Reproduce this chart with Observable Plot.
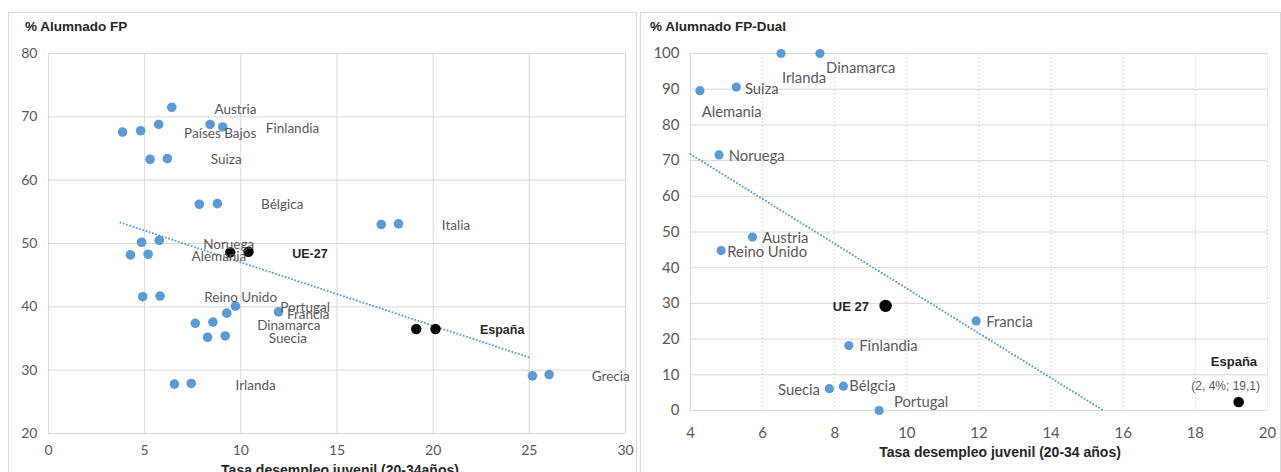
<!DOCTYPE html>
<html>
<head>
<meta charset="utf-8">
<script src="https://cdn.jsdelivr.net/npm/d3@7"></script>
<script src="https://cdn.jsdelivr.net/npm/@observablehq/plot@0.6"></script>
<style>
  html, body { margin: 0; padding: 0; background: #fff; width: 1281px; height: 472px; overflow: hidden; }
  .card { position: absolute; top: 12px; border: 1px solid #d9d9d9; box-sizing: border-box; height: 480px; }
  .panel { position: absolute; top: 12px; }
  .title { position: absolute; font-family: "Liberation Sans", Arial, sans-serif; font-weight: bold; font-size: 13.5px; color: #262626; white-space: nowrap; }
  .xtitle { position: absolute; font-family: "Liberation Sans", Arial, sans-serif; font-weight: bold; font-size: 14px; color: #262626; white-space: nowrap; transform: translateX(-50%); }
</style>
</head>
<body>
<div class="card" style="left:8px;width:629px;"></div>
<div class="card" style="left:640px;width:641px;"></div>
<div id="left" class="panel" style="left:8px;"></div>
<div id="right" class="panel" style="left:640px;"></div>
<div class="title" style="left:25px;top:19px;">% Alumnado FP</div>
<div class="title" style="left:650px;top:19px;">% Alumnado FP-Dual</div>
<div class="xtitle" style="left:340px;top:462px;">Tasa desempleo juvenil (20-34años)</div>
<div class="xtitle" style="left:1000px;top:444px;">Tasa desempleo juvenil (20-34 años)</div>
<script>
// ---------- Left chart: % Alumnado FP ----------
const fpXTicks = [0, 5, 10, 15, 20, 25, 30];
const fpYTicks = [20, 30, 40, 50, 60, 70, 80];

const fpBlueX = [3.85, 4.79, 5.73, 6.41, 8.40, 9.06, 5.28, 6.18, 7.84, 8.78, 17.3, 18.2, 4.84, 5.76, 4.26, 5.18, 4.90, 5.80, 9.72, 9.27, 11.96, 7.63, 8.55, 8.27, 9.19, 6.55, 7.42, 25.16, 26.03];
const fpBlueY = [67.6, 67.8, 68.8, 71.5, 68.8, 68.4, 63.3, 63.4, 56.2, 56.3, 53.0, 53.1, 50.2, 50.5, 48.2, 48.3, 41.6, 41.7, 40.1, 39.0, 39.2, 37.4, 37.6, 35.2, 35.4, 27.8, 27.9, 29.1, 29.3];

const fpBlackX = [9.45, 10.40, 19.12, 20.12];
const fpBlackY = [48.6, 48.7, 36.5, 36.5];

const fpTrendX = [3.74, 25.1];
const fpTrendY = [53.3, 31.9];

const fpLabels = ["Austria", "Países Bajos", "Finlandia", "Suiza", "Bélgica", "Italia", "Noruega", "Alemania", "Reino Unido", "Portugal", "Francia", "Dinamarca", "Suecia", "Irlanda", "Grecia"];
const fpLabelX = [8.63, 7.05, 11.3, 8.44, 11.05, 20.45, 8.04, 7.44, 8.10, 12.05, 12.4, 10.85, 11.45, 9.72, 28.25];
const fpLabelY = [71.2, 67.4, 68.2, 63.2, 56.1, 52.8, 49.8, 47.9, 41.4, 39.9, 38.8, 37.1, 35.0, 27.6, 28.9];

const fpBoldLabels = ["UE-27", "España"];
const fpBoldX = [12.67, 22.43];
const fpBoldY = [48.3, 36.3];

// ---------- Right chart: % Alumnado FP-Dual ----------
const dualXTicks = [4, 6, 8, 10, 12, 14, 16, 18, 20];
const dualYTicks = [0, 10, 20, 30, 40, 50, 60, 70, 80, 90, 100];

const dualCountries = ["Irlanda", "Dinamarca", "Alemania", "Suiza", "Noruega", "Austria", "Reino Unido", "Francia", "Finlandia", "Bélgcia", "Suecia", "Portugal"];
const dualX = [6.51, 7.59, 4.26, 5.27, 4.79, 5.72, 4.85, 11.92, 8.39, 8.24, 7.85, 9.23];
const dualY = [100, 100, 89.6, 90.6, 71.6, 48.6, 44.8, 25.1, 18.2, 6.8, 6.1, 0];

const dualBlackNames = ["UE 27", "España"];
const dualBlackX = [9.41, 19.2];
const dualBlackY = [29.3, 2.4];

const dualTrendX = [4.0, 15.45];
const dualTrendY = [71.8, 0];

// labels anchored at their start
const dualStartLabels = ["Dinamarca", "Suiza", "Alemania", "Noruega", "Austria", "Reino Unido", "Francia", "Finlandia", "Bélgcia", "Portugal"];
const dualStartX = [7.76, 5.51, 4.31, 5.06, 5.99, 5.02, 12.2, 8.68, 8.40, 9.64];
const dualStartY = [96.0, 89.9, 83.6, 71.3, 48.3, 44.4, 24.7, 18.0, 6.9, 2.3];
// labels anchored at their end
const dualEndLabels = ["Irlanda", "Suecia"];
const dualEndX = [7.76, 7.59];
const dualEndY = [93.2, 5.8];
const dualEndBold = ["UE 27"];
const dualEndBoldX = [8.95];
const dualEndBoldY = [28.9];
// centered labels
const dualMidBold = ["España"];
const dualMidBoldX = [19.07];
const dualMidBoldY = [13.7];
const dualMidLabels = ["(2, 4%; 19,1)"];
const dualMidX = [18.84];
const dualMidY = [6.9];

const BLUE = "#5b9bd5";
const GRID = "#d9d9d9";
const TXT = "#595959";
const LABEL_FONT = "Lato, 'Open Sans', sans-serif";
const BOLD_FONT = "'Liberation Sans', Arial, sans-serif";

const idx = (a) => a.map((_, i) => i);
const dotted = { stroke: BLUE, strokeWidth: 2, strokeDasharray: "0.01,3.4", strokeLinecap: "round" };

// ---------- Left plot ----------
const left = Plot.plot({
  width: 629, height: 460,
  marginLeft: 40, marginRight: 12, marginTop: 41, marginBottom: 39,
  style: { background: "transparent", fontFamily: LABEL_FONT },
  x: { domain: [0, 30] },
  y: { domain: [20, 80] },
  marks: [
    Plot.ruleX(fpXTicks, { stroke: GRID, strokeWidth: 1 }),
    Plot.ruleY(fpYTicks, { stroke: GRID, strokeWidth: 1 }),
    Plot.axisX({ ticks: fpXTicks, tickSize: 0, tickPadding: 12, fontSize: 14, fill: TXT, label: null, fontFamily: LABEL_FONT }),
    Plot.axisY({ ticks: fpYTicks, tickSize: 0, tickPadding: 11, fontSize: 14, fill: TXT, label: null, fontFamily: LABEL_FONT }),
    Plot.line(idx(fpTrendX), { x: i => fpTrendX[i], y: i => fpTrendY[i], ...dotted }),
    Plot.dot(idx(fpBlueX), { x: i => fpBlueX[i], y: i => fpBlueY[i], r: 4.8, fill: BLUE }),
    Plot.dot(idx(fpBlackX), { x: i => fpBlackX[i], y: i => fpBlackY[i], r: 5.2, fill: "#000" }),
    Plot.text(idx(fpLabels), { x: i => fpLabelX[i], y: i => fpLabelY[i], text: i => fpLabels[i], textAnchor: "start", fontSize: 13.5, fill: TXT, fontFamily: LABEL_FONT }),
    Plot.text(idx(fpBoldLabels), { x: i => fpBoldX[i], y: i => fpBoldY[i], text: i => fpBoldLabels[i], textAnchor: "start", fontSize: 12.5, fontWeight: "bold", fill: "#262626", fontFamily: BOLD_FONT })
  ]
});
document.getElementById("left").appendChild(left);

// ---------- Right plot ----------
const right = Plot.plot({
  width: 641, height: 460,
  marginLeft: 50, marginRight: 14, marginTop: 41, marginBottom: 62,
  style: { background: "transparent", fontFamily: LABEL_FONT },
  x: { domain: [4, 20] },
  y: { domain: [0, 100] },
  marks: [
    Plot.ruleX(dualXTicks.slice(1), { stroke: GRID, strokeWidth: 1, strokeDasharray: "2,2" }),
    Plot.ruleX(dualXTicks.slice(0, 1), { stroke: GRID, strokeWidth: 1 }),
    Plot.ruleY(dualYTicks, { stroke: GRID, strokeWidth: 1 }),
    Plot.axisX({ ticks: dualXTicks, tickSize: 0, tickPadding: 17, fontSize: 15, fill: TXT, label: null, fontFamily: LABEL_FONT }),
    Plot.axisY({ ticks: dualYTicks, tickSize: 0, tickPadding: 11, fontSize: 15, fill: TXT, label: null, fontFamily: LABEL_FONT }),
    Plot.line(idx(dualTrendX), { x: i => dualTrendX[i], y: i => dualTrendY[i], ...dotted }),
    Plot.dot(idx(dualX), { x: i => dualX[i], y: i => dualY[i], r: 4.6, fill: BLUE }),
    Plot.dot([0], { x: i => dualBlackX[i], y: i => dualBlackY[i], r: 6.2, fill: "#000" }),
    Plot.dot([1], { x: i => dualBlackX[i], y: i => dualBlackY[i], r: 5.3, fill: "#000" }),
    Plot.text(idx(dualStartLabels), { x: i => dualStartX[i], y: i => dualStartY[i], text: i => dualStartLabels[i], textAnchor: "start", fontSize: 14.8, fill: TXT, fontFamily: LABEL_FONT }),
    Plot.text(idx(dualEndLabels), { x: i => dualEndX[i], y: i => dualEndY[i], text: i => dualEndLabels[i], textAnchor: "end", fontSize: 14.8, fill: TXT, fontFamily: LABEL_FONT }),
    Plot.text(idx(dualEndBold), { x: i => dualEndBoldX[i], y: i => dualEndBoldY[i], text: i => dualEndBold[i], textAnchor: "end", fontSize: 13, fontWeight: "bold", fill: "#262626", fontFamily: BOLD_FONT }),
    Plot.text(idx(dualMidBold), { x: i => dualMidBoldX[i], y: i => dualMidBoldY[i], text: i => dualMidBold[i], textAnchor: "middle", fontSize: 13, fontWeight: "bold", fill: "#262626", fontFamily: BOLD_FONT }),
    Plot.text(idx(dualMidLabels), { x: i => dualMidX[i], y: i => dualMidY[i], text: i => dualMidLabels[i], textAnchor: "middle", fontSize: 12, fill: TXT, fontFamily: BOLD_FONT })
  ]
});
document.getElementById("right").appendChild(right);
</script>
</body>
</html>
